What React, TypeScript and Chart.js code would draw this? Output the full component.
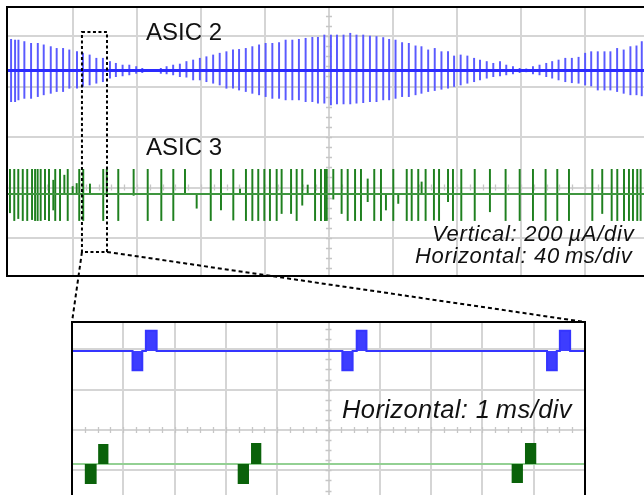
import React, { useEffect, useRef } from "react";
import { Chart, registerables } from "chart.js";

Chart.register(...registerables);

const W = 644;
const H = 495;

// ---------- Top panel: 40 ms/div, 200 µA/div ----------
// ASIC 2 (blue): spike times (ms) and upward / downward excursions (µA)
const topBlueTimes = [
  1.3, 3.8, 5.9, 9.6, 13.8, 18.0, 21.7, 26.1, 29.8, 33.8,
  37.7, 42.5, 46.2, 50.4, 54.6, 58.7, 63.1, 66.8, 71.0, 75.2,
  79.5, 83.3, 87.4, 91.5, 94.9, 98.5, 102.6, 106.8, 110.9, 115.1,
  119.3, 123.4, 127.6, 131.7, 135.9, 140.0, 143.8, 148.0, 152.1, 156.3,
  160.4, 164.6, 168.8, 172.9, 177.1, 181.2, 185.4, 189.6, 193.1, 197.1,
  201.2, 205.0, 209.1, 213.3, 217.2, 221.4, 225.6, 229.7, 233.9, 237.6,
  241.6, 245.7, 249.9, 254.1, 257.8, 262.0, 266.1, 270.3, 274.4, 278.2,
  282.3, 286.5, 290.7, 294.4, 298.6, 302.7, 306.9, 310.8, 315.0, 319.2,
  323.3, 327.5, 331.6, 335.8, 339.5, 343.5, 347.7, 351.8, 356.0, 360.1,
  363.9, 368.0, 372.2, 375.9, 380.1, 384.2, 388.4, 392.2, 395.5,
];
const topBlueUp = [
  124, 121, 121, 115, 108, 108, 102, 95, 88, 88,
  82, 75, 69, 62, 49, 49, 36, 29, 22, 22,
  16, 9, 5, 4, 9, 16, 22, 26, 36, 42,
  49, 55, 62, 69, 75, 82, 84, 88, 95, 102,
  108, 108, 111, 121, 121, 124, 128, 132, 132, 141,
  141, 141, 141, 148, 141, 141, 137, 135, 131, 124,
  121, 111, 108, 98, 95, 82, 88, 75, 75, 58,
  62, 58, 49, 42, 36, 29, 36, 22, 16, 9,
  7, 16, 22, 29, 36, 42, 49, 49, 53, 69,
  75, 75, 75, 75, 88, 82, 95, 98, 115,
];
const topBlueDown = [
  123, 123, 116, 110, 110, 103, 96, 90, 83, 83,
  70, 70, 63, 57, 50, 44, 30, 24, 21, 17,
  11, 8, 4, 3, 11, 13, 17, 24, 26, 37,
  37, 44, 50, 57, 70, 70, 77, 83, 90, 96,
  103, 110, 110, 116, 116, 116, 123, 123, 129, 129,
  136, 132, 132, 132, 129, 127, 123, 123, 116, 116,
  110, 103, 103, 96, 90, 83, 79, 74, 70, 63,
  57, 50, 44, 37, 30, 24, 21, 17, 13, 8,
  5, 13, 17, 24, 30, 37, 44, 48, 50, 57,
  61, 77, 77, 77, 83, 90, 96, 96, 100,
];
// ASIC 3 (green)
const topGreenTimes = [
  0.6, 3.3, 5.8, 8.6, 11.4, 14.4, 16.3, 17.9, 19.8, 22.5,
  25.0, 27.7, 28.9, 31.9, 34.6, 36.7, 39.8, 42.3, 43.9, 46.4,
  50.6, 58.9, 61.1, 68.3, 77.9, 86.7, 95.2, 102.7, 110.0, 117.3,
  126.1, 132.5, 140.2, 144.4, 148.1, 152.1, 155.8, 159.6, 163.1, 167.3,
  170.4, 176.3, 179.8, 183.3, 186.7, 191.3, 195.0, 197.5, 198.6, 202.7,
  207.9, 211.7, 216.3, 220.0, 224.2, 228.3, 232.5, 235.6, 240.2, 243.3,
  248.6, 251.7, 255.8, 257.9, 260.4, 265.6, 268.8, 274.4, 277.5, 282.7,
  291.1, 300.6, 310.4, 319.2, 327.5, 335.4, 342.7, 350.0, 364.6, 370.8,
  376.7, 380.2, 384.4, 387.5, 390.0, 392.7, 394.8,
];
const topGreenUp = [
  98, 98, 98, 98, 98, 98, 98, 98, 98, 98,
  98, 55, 98, 98, 75, 98, 30, 42, 98, 98,
  40, 98, 98, 98, 98, 98, 98, 98, 98, 0,
  98, 98, 98, 20, 98, 98, 98, 98, 98, 98,
  98, 98, 98, 98, 36, 98, 98, 98, 98, 98,
  98, 98, 98, 98, 60, 98, 98, 0, 98, 0,
  98, 98, 98, 48, 98, 98, 98, 98, 98, 98,
  98, 98, 98, 98, 98, 98, 98, 98, 98, 98,
  98, 98, 98, 98, 98, 98, 98,
];
const topGreenDown = [
  74, 105, 97, 105, 105, 101, 105, 105, 105, 101,
  105, 63, 105, 105, 0, 105, 0, 0, 105, 105,
  0, 105, 10, 105, 5, 105, 105, 105, 0, 56,
  105, 63, 103, 0, 105, 105, 105, 105, 105, 105,
  77, 77, 105, 44, 0, 105, 105, 105, 105, 20,
  77, 105, 105, 105, 30, 105, 105, 63, 105, 37,
  105, 105, 105, 0, 105, 103, 105, 30, 105, 105,
  105, 70, 105, 105, 105, 105, 105, 105, 105, 77,
  105, 105, 105, 105, 105, 105, 105,
];
const topBlueOffset = 463; // µA, trace position on screen
const topGreenOffset = -26;
const topTimeRange = [-1.25, 396.9]; // ms
const topCurrentRange = [-350.4, 714.9]; // µA
const zoomWindowTime = [45.6, 61.25]; // ms, dotted box
const zoomWindowCurrent = [-255, 616];

// ---------- Bottom panel: 1 ms/div ----------
const botBlueNegStart = [1.18, 5.27, 9.26];
const botBlueNegEnd = [1.37, 5.47, 9.45];
const botBluePosStart = [1.44, 5.55, 9.51];
const botBluePosEnd = [1.65, 5.74, 9.71];
const botBlueUp = [100, 100, 100];
const botBlueDown = [95, 95, 95];
const botGreenNegStart = [0.25, 3.23, 8.57];
const botGreenNegEnd = [0.48, 3.45, 8.79];
const botGreenPosStart = [0.51, 3.49, 8.83];
const botGreenPosEnd = [0.71, 3.69, 9.05];
const botGreenUp = [99, 104, 104];
const botGreenDown = [99, 99, 94];
const botBlueOffset = 391;
const botGreenOffset = -168;
const botTimeRange = [0, 10];
const botCurrentRange = [-321.8, 534.7];

const GRID = "#d5d5d5";
const FONT = "'Liberation Sans', Arial, Helvetica, sans-serif";

function burstTrace(base: number, ns: number[], ne: number[], ps: number[], pe: number[], up: number[], down: number[], t0: number, t1: number) {
  const pts: { x: number; y: number }[] = [{ x: t0, y: base }];
  ns.forEach((_, i) => {
    pts.push({ x: ns[i], y: base }, { x: ns[i], y: base - down[i] }, { x: ne[i], y: base - down[i] }, { x: ne[i], y: base });
    pts.push({ x: ps[i], y: base }, { x: ps[i], y: base + up[i] }, { x: pe[i], y: base + up[i] }, { x: pe[i], y: base });
  });
  pts.push({ x: t1, y: base });
  return pts;
}

function spikeBars(times: number[], up: number[], down: number[], base: number) {
  return times.map((t, i) => ({ x: t, y: [base - down[i], base + up[i]] }));
}

function drawCenterTicks(chart: any, xc: number, yc: number, xStep: number, yStep: number) {
  const { ctx, scales } = chart;
  const x = scales.x, y = scales.y;
  const cx = x.getPixelForValue(xc), cy = y.getPixelForValue(yc);
  ctx.save();
  ctx.strokeStyle = "#c6c6c6";
  ctx.lineWidth = 1.3;
  ctx.beginPath();
  for (let v = Math.ceil(x.min / xStep) * xStep; v <= x.max; v += xStep) {
    const p = Math.round(x.getPixelForValue(v)) + 0.5;
    ctx.moveTo(p, cy - 3); ctx.lineTo(p, cy + 3);
  }
  for (let v = Math.ceil(y.min / yStep) * yStep; v <= y.max; v += yStep) {
    const p = Math.round(y.getPixelForValue(v)) + 0.5;
    ctx.moveTo(cx - 3, p); ctx.lineTo(cx + 3, p);
  }
  ctx.stroke();
  ctx.restore();
}

function axes(tr: number[], cr: number[], xStep: number, yStep: number, hideX0: boolean) {
  return {
    x: {
      type: "linear", min: tr[0], max: tr[1], offset: false,
      ticks: { display: false, stepSize: xStep, includeBounds: false },
      grid: { color: (c: any) => (hideX0 && c.tick && c.tick.value === 0 ? "rgba(0,0,0,0)" : GRID), lineWidth: 2, drawTicks: false, offset: false },
      border: { display: false },
    },
    y: {
      type: "linear", min: cr[0], max: cr[1],
      ticks: { display: false, stepSize: yStep, includeBounds: false },
      grid: { color: GRID, lineWidth: 2, drawTicks: false },
      border: { display: false },
    },
  };
}

export default function App() {
  const topRef = useRef<HTMLCanvasElement>(null);
  const botRef = useRef<HTMLCanvasElement>(null);

  useEffect(() => {
    const bottom = new Chart(botRef.current as HTMLCanvasElement, {
      type: "line",
      data: {
        datasets: [
          {
            data: burstTrace(botBlueOffset, botBlueNegStart, botBlueNegEnd, botBluePosStart, botBluePosEnd, botBlueUp, botBlueDown, botTimeRange[0], botTimeRange[1]),
            borderColor: "#3535ff", borderWidth: 2, backgroundColor: "#3d3dff",
            fill: { value: botBlueOffset }, pointRadius: 0, tension: 0, order: 1,
          },
          {
            data: [{ x: botTimeRange[0], y: botGreenOffset }, { x: botTimeRange[1], y: botGreenOffset }],
            borderColor: "#93d093", borderWidth: 2, pointRadius: 0, fill: false, order: 3,
          },
          {
            data: burstTrace(botGreenOffset, botGreenNegStart, botGreenNegEnd, botGreenPosStart, botGreenPosEnd, botGreenUp, botGreenDown, botTimeRange[0], botTimeRange[1]),
            borderColor: "rgba(0,0,0,0)", borderWidth: 0, backgroundColor: "#0a620a",
            fill: { value: botGreenOffset }, pointRadius: 0, tension: 0, order: 2,
          },
        ],
      } as any,
      options: {
        animation: false, responsive: false, devicePixelRatio: 1,
        layout: { padding: { left: 72, top: 322, right: W - 585, bottom: 0 } },
        plugins: { legend: { display: false }, tooltip: { enabled: false } },
        scales: axes(botTimeRange, botCurrentRange, 1, 200, false) as any,
      },
      plugins: [
        {
          id: "botDecor",
          beforeDatasetsDraw(chart: any) { drawCenterTicks(chart, 5, 0, 0.25, 50); },
          afterDatasetsDraw(chart: any) {
            const { ctx, chartArea: a } = chart;
            ctx.save();
            ctx.strokeStyle = "#000"; ctx.lineWidth = 2; ctx.lineJoin = "miter";
            ctx.beginPath();
            ctx.moveTo(a.left, a.bottom + 2); ctx.lineTo(a.left, a.top); ctx.lineTo(a.right, a.top); ctx.lineTo(a.right, a.bottom + 2);
            ctx.stroke();
            ctx.restore();
          },
        },
      ],
    });

    const top = new Chart(topRef.current as HTMLCanvasElement, {
      type: "line",
      data: {
        datasets: [
          {
            type: "line",
            data: [{ x: topTimeRange[0], y: topBlueOffset }, { x: topTimeRange[1], y: topBlueOffset }],
            borderColor: "#2b2bff", borderWidth: 3, pointRadius: 0, order: 0,
          },
          {
            type: "line",
            data: [{ x: topTimeRange[0], y: topGreenOffset }, { x: topTimeRange[1], y: topGreenOffset }],
            borderColor: "#3f963f", borderWidth: 2, pointRadius: 0, order: 0,
          },
          {
            type: "bar",
            data: spikeBars(topBlueTimes, topBlueUp, topBlueDown, topBlueOffset),
            backgroundColor: "#5a5aff", borderWidth: 0, barThickness: 1.3, grouped: false, order: 2,
          },
          {
            type: "bar",
            data: spikeBars(topGreenTimes, topGreenUp, topGreenDown, topGreenOffset),
            backgroundColor: "#1f801f", borderWidth: 0, barThickness: 1.3, grouped: false, order: 2,
          },
        ],
      } as any,
      options: {
        animation: false, responsive: false, devicePixelRatio: 1,
        layout: { padding: { left: 7, top: 7, right: 0, bottom: H - 276 } },
        plugins: { legend: { display: false }, tooltip: { enabled: false } },
        scales: axes(topTimeRange, topCurrentRange, 40, 200, true) as any,
      },
      plugins: [
        {
          id: "topDecor",
          beforeDatasetsDraw(chart: any) { drawCenterTicks(chart, 200, 0, 8, 40); },
          afterDatasetsDraw(chart: any) {
            const { ctx, chartArea: a } = chart;
            ctx.save();
            ctx.strokeStyle = "#000"; ctx.lineWidth = 2; ctx.lineJoin = "miter";
            ctx.beginPath();
            ctx.moveTo(a.right + 2, a.top); ctx.lineTo(a.left, a.top); ctx.lineTo(a.left, a.bottom); ctx.lineTo(a.right + 2, a.bottom);
            ctx.stroke();
            ctx.restore();
          },
          afterDraw(chart: any) {
            const { ctx, scales } = chart;
            const l = scales.x.getPixelForValue(zoomWindowTime[0]);
            const r = scales.x.getPixelForValue(zoomWindowTime[1]);
            const t = scales.y.getPixelForValue(zoomWindowCurrent[1]);
            const b = scales.y.getPixelForValue(zoomWindowCurrent[0]);
            const ba = bottom.chartArea;
            ctx.save();
            ctx.strokeStyle = "#000"; ctx.lineWidth = 2;
            ctx.setLineDash([3, 2.5]);
            ctx.strokeRect(l, t, r - l, b - t);
            ctx.setLineDash([4, 3]);
            ctx.beginPath();
            ctx.moveTo(l, b); ctx.lineTo(ba.left, ba.top);
            ctx.moveTo(r, b); ctx.lineTo(ba.right, ba.top);
            ctx.stroke();
            ctx.restore();
          },
        },
      ],
    });

    return () => {
      top.destroy();
      bottom.destroy();
    };
  }, []);

  const label = (text: string, left: number, top: number, size: number, italic: boolean, spacing = 0) => (
    <div
      style={{
        position: "absolute", left, top, fontFamily: FONT, fontSize: size, lineHeight: 1,
        fontStyle: italic ? "italic" : "normal", letterSpacing: spacing, color: "#111", whiteSpace: "nowrap",
      }}
    >
      {text}
    </div>
  );

  return (
    <div style={{ position: "fixed", left: 0, top: 0, width: W, height: H, background: "#fff", overflow: "hidden" }}>
      <canvas ref={topRef} width={W} height={H} style={{ position: "absolute", left: 0, top: 0, width: W, height: H }} />
      <canvas ref={botRef} width={W} height={H} style={{ position: "absolute", left: 0, top: 0, width: W, height: H }} />
      {label("ASIC 2", 146, 20.4, 24, false)}
      {label("ASIC 3", 146, 135.4, 24, false)}
      {label("Vertical: 200\u2009µA/div", 432, 223.1, 22, true, 0.75)}
      {label("Horizontal: 40\u2009ms/div", 415, 245.4, 22, true, 0.65)}
      {label("Horizontal: 1\u2009ms/div", 342, 396.7, 25.5, true, 0.4)}
    </div>
  );
}
